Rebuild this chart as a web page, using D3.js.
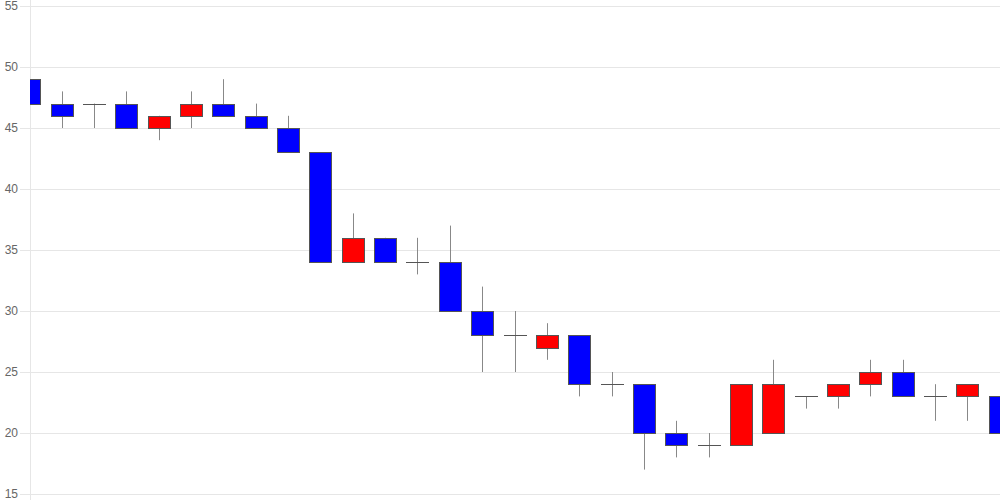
<!DOCTYPE html>
<html>
<head>
<meta charset="utf-8">
<script src="https://cdn.jsdelivr.net/npm/d3@7"></script>
<style>
html,body{margin:0;padding:0;background:#fff;}
svg{display:block;}
</style>
</head>
<body>
<svg id="chart" width="1000" height="500"></svg>
<script>
const opens  = [49,47,47,47,45,46,47,46,45,43,34,36,34,34,30,28,27,28,24,24,20,19,19,20,23,23,24,25,23,23,23];
const closes = [47,46,47,45,46,47,46,45,43,34,36,34,34,30,28,28,28,24,24,20,19,19,24,24,23,24,25,23,23,24,20];
const highs  = [50,48,47,48,46,48,49,47,46,43,38,36,36,37,32,30,29,28,25,24,21,20,24,26,23,24,26,26,24,24,23];
const lows   = [44,45,45,45,44,45,46,45,43,34,34,34,33,30,25,25,26,23,23,17,18,18,19,20,22,22,23,23,21,21,20];
const yTicks = [15,20,25,30,35,40,45,50,55];

(function(){
const svg = d3.select("#chart");
const W = 1000, H = 500;
const mLeft = 30, mRight = 1000, mTop = 6, mBottom = 494;

const idx = d3.range(opens.length);
const x = d3.scalePoint().domain(idx).range([29.5, 999.5]);
const y = d3.scaleLinear().domain([15,55]).range([mBottom, mTop]);

const yAxis = d3.axisLeft(y).tickValues(yTicks).tickSize(10).tickPadding(2);
const g = svg.append("g").attr("transform", `translate(${mLeft},0)`).call(yAxis);
g.select(".domain").remove();
g.selectAll(".tick line").attr("stroke", "#e6e6e6");
g.selectAll(".tick text").attr("fill", "#666").style("font-family", "Liberation Sans, Arial, sans-serif").style("font-size", "12px");
g.selectAll(".tick").attr("transform", d => `translate(0,${Math.round(y(d)) + 0.5})`);

svg.append("g").selectAll("line").data(yTicks).join("line")
  .attr("x1", mLeft).attr("x2", mRight)
  .attr("y1", d => Math.round(y(d)) + 0.5).attr("y2", d => Math.round(y(d)) + 0.5)
  .attr("stroke", "#e6e6e6");

svg.append("line").attr("x1", mLeft + 0.5).attr("x2", mLeft + 0.5).attr("y1", 0).attr("y2", H)
  .attr("stroke", "#e6e6e6");

svg.append("clipPath").attr("id", "clip").append("rect")
  .attr("x", mLeft).attr("y", 0).attr("width", mRight - mLeft).attr("height", H);

const plot = svg.append("g").attr("clip-path", "url(#clip)");
const bw = 23;

const c = plot.selectAll("g.c").data(idx).join("g").attr("class", "c");
c.append("line")
  .attr("x1", i => Math.round(x(i)) + 0.5).attr("x2", i => Math.round(x(i)) + 0.5)
  .attr("y1", i => y(highs[i])).attr("y2", i => y(lows[i]))
  .attr("stroke", "#888").attr("stroke-width", 1);
c.each(function(i){
  const sel = d3.select(this);
  const o = opens[i], cl = closes[i];
  const cx = Math.round(x(i));
  if (o === cl) {
    sel.append("line")
      .attr("x1", cx - bw/2 + 0.5).attr("x2", cx + bw/2 + 0.5)
      .attr("y1", Math.round(y(o)) + 0.5).attr("y2", Math.round(y(o)) + 0.5)
      .attr("stroke", "#555").attr("stroke-width", 1);
  } else {
    const y0 = Math.round(y(Math.max(o, cl)));
    const y1 = Math.round(y(Math.min(o, cl)));
    sel.append("rect")
      .attr("x", cx - bw/2 + 1).attr("y", y0 + 0.5)
      .attr("width", bw - 1).attr("height", y1 - y0)
      .attr("fill", cl > o ? "#ff0000" : "#0000ff")
      .attr("stroke", "#555").attr("stroke-width", 1);
  }
});
})();
</script>
</body>
</html>
